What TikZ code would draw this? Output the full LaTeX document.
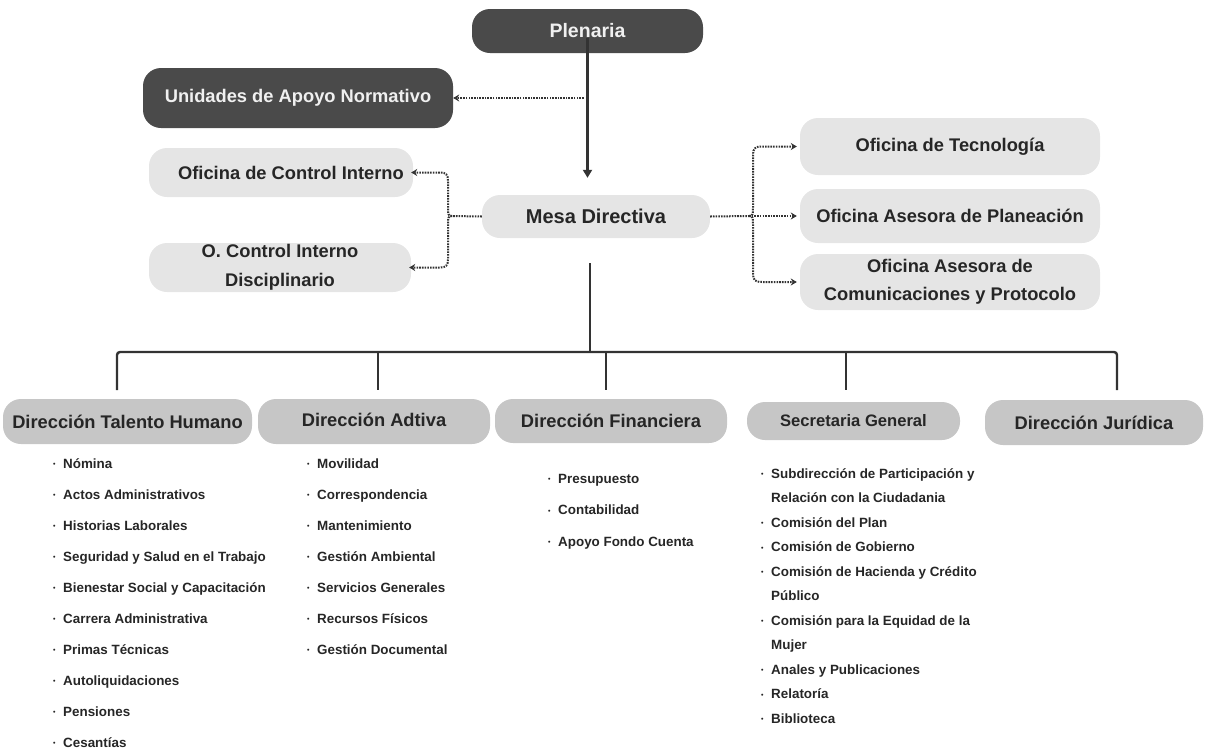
\documentclass[tikz,border=0pt]{standalone}
\usepackage{fontspec}
\setmainfont{Liberation Sans}
\usetikzlibrary{arrows.meta}
\definecolor{darkfill}{HTML}{4A4A4A}
\definecolor{lightfill}{HTML}{E5E5E5}
\definecolor{midfill}{HTML}{C6C6C6}
\definecolor{ink}{HTML}{262626}
\definecolor{linecol}{HTML}{333333}
\newcommand{\setpx}[2]{\fontsize{#1}{#2}\selectfont}
\newcommand{\bul}{\makebox[10pt][l]{\setpx{7}{7}\raisebox{1.5pt}{•}}}
\begin{document}
\begin{tikzpicture}[x=1pt,y=-1pt,
  box/.style={rounded corners=18pt, inner sep=0pt, align=center, text=ink,
              font=\bfseries\setpx{18.3}{28.5}},
  darkbox/.style={box, fill=darkfill, text=white!94!black},
  lightbox/.style={box, fill=lightfill},
  dirbox/.style={box, fill=midfill},
  solidline/.style={draw=linecol, line width=2.4pt},
  dotline/.style={draw=linecol, line width=2pt, dash pattern=on 1.6pt off 1.1pt},
  dotarrow/.style={dotline, -{Stealth[length=6pt,width=7pt]}},
  item/.style={anchor=base west, inner sep=0pt, text=ink, font=\bfseries\setpx{13.4}{15}}
]
\useasboundingbox (0,0) rectangle (1205,750);

% top level
\node[darkbox, minimum width=231pt, minimum height=44pt, font=\bfseries\setpx{19.5}{22}]
  (plen) at (587.5,31) {Plenaria};
\node[darkbox, minimum width=310pt, minimum height=60pt] (unid) at (298,98)
  {Unidades de Apoyo Normativo};
\node[lightbox, minimum width=228pt, minimum height=43pt, font=\bfseries\setpx{20}{22}]
  (mesa) at (596,216.5) {Mesa Directiva};

% control offices (left)
\node[lightbox, minimum width=264pt, minimum height=49pt] (oci) at (281,172.5)
  {\hspace*{20pt}Oficina de Control Interno};
\node[lightbox, minimum width=262pt, minimum height=49pt] (ocid) at (280,267.5)
  {O. Control Interno\\Disciplinario};

% advisory offices (right)
\node[lightbox, minimum width=300pt, minimum height=57pt] (tec) at (950,146.5)
  {Oficina de Tecnología};
\node[lightbox, minimum width=300pt, minimum height=54pt] (plan) at (950,216)
  {Oficina Asesora de Planeación};
\node[lightbox, minimum width=300pt, minimum height=56pt] (com) at (950,282)
  {Oficina Asesora de\\Comunicaciones y Protocolo};

% directorates
\node[dirbox, minimum width=249pt, minimum height=45pt] (dth) at (127.5,421.5)
  {Dirección Talento Humano};
\node[dirbox, minimum width=232pt, minimum height=45pt] (dad) at (374,421.5)
  {\raisebox{3pt}{Dirección Adtiva}};
\node[dirbox, minimum width=232pt, minimum height=44pt] (dfin) at (611,421)
  {Dirección Financiera};
\node[dirbox, minimum width=213pt, minimum height=38pt, font=\bfseries\setpx{16.6}{20}]
  (sec) at (853.5,421) {Secretaria General};
\node[dirbox, minimum width=218pt, minimum height=45pt] (jur) at (1094,422.5)
  {Dirección Jurídica};

% Plenaria -> Mesa Directiva
\draw[solidline, -{Triangle[length=8pt,width=9pt]}]
  ([yshift=-7pt]plen.center) -- ([yshift=17pt]plen.center |- mesa.north);
\draw[dotarrow] ([xshift=-4pt]plen.center |- unid.east) -- (unid.east);

% left brace
\coordinate (lb) at (452,216);
\draw[dotline] (mesa.west) -- (lb);
\draw[dotarrow] (lb) .. controls (448,216) and (448,214) .. (448,208) -- (448,181)
  .. controls (448,174.5) and (446,172.5) .. (440,172.5) -- ([xshift=-2pt]oci.east);
\draw[dotarrow] (lb) .. controls (448,216) and (448,218) .. (448,224) -- (448,259)
  .. controls (448,265.5) and (446,267.5) .. (440,267.5) -- ([xshift=-2pt]ocid.east);

% right brace
\coordinate (rb) at (749,216);
\draw[dotline] (mesa.east) -- (rb);
\draw[dotarrow] (rb) .. controls (753,216) and (753,214) .. (753,208) -- (753,155)
  .. controls (753,148.5) and (755,146.5) .. (762,146.5) -- ([xshift=-3pt]tec.west);
\draw[dotarrow] (rb) -- ([xshift=-3pt]plan.west);
\draw[dotarrow] (rb) .. controls (753,216) and (753,218) .. (753,224) -- (753,274)
  .. controls (753,280) and (755,282) .. (762,282) -- ([xshift=-3pt]com.west);

% distribution bus
\coordinate (bt) at (590,263);
\coordinate (bj) at (590,352);
\coordinate (d1) at (117,390);
\coordinate (d2) at (378,390);
\coordinate (d3) at (606,390);
\coordinate (d4) at (846,390);
\coordinate (d5) at (1117,390);
\draw[solidline] (bt) -- (bj);
\draw[solidline, rounded corners=3pt] (d1) -- (d1 |- bj) -- (d5 |- bj) -- (d5);
\foreach \d in {d2,d3,d4} \draw[solidline] (\d |- bj) -- (\d);

% sub-units
\foreach \t [count=\i] in {Nómina, Actos Administrativos, Historias Laborales,
  Seguridad y Salud en el Trabajo, Bienestar Social y Capacitación,
  Carrera Administrativa, Primas Técnicas, Autoliquidaciones, Pensiones, Cesantías}
  \node[item] (th\i) at (53,437+31*\i) {\bul\t};

\foreach \t [count=\i] in {Movilidad, Correspondencia, Mantenimiento, Gestión Ambiental,
  Servicios Generales, Recursos Físicos, Gestión Documental}
  \node[item] (ad\i) at (307,437+31*\i) {\bul\t};

\foreach \t [count=\i] in {Presupuesto, Contabilidad, Apoyo Fondo Cuenta}
  \node[item] (fi\i) at (548,451.5+31.5*\i) {\bul\t};

\node[item] (sg1)  at (761,478)   {\bul Subdirección de Participación y};
\node[item] (sg1b) at (771,502.5) {Relación con la Ciudadania};
\node[item] (sg2)  at (761,527)   {\bul Comisión del Plan};
\node[item] (sg3)  at (761,551.5) {\bul Comisión de Gobierno};
\node[item] (sg4)  at (761,576)   {\bul Comisión de Hacienda y Crédito};
\node[item] (sg4b) at (771,600.5) {Público};
\node[item] (sg5)  at (761,625)   {\bul Comisión para la Equidad de la};
\node[item] (sg5b) at (771,649.5) {Mujer};
\node[item] (sg6)  at (761,674)   {\bul Anales y Publicaciones};
\node[item] (sg7)  at (761,698.5) {\bul Relatoría};
\node[item] (sg8)  at (761,723)   {\bul Biblioteca};
\end{tikzpicture}
\end{document}
